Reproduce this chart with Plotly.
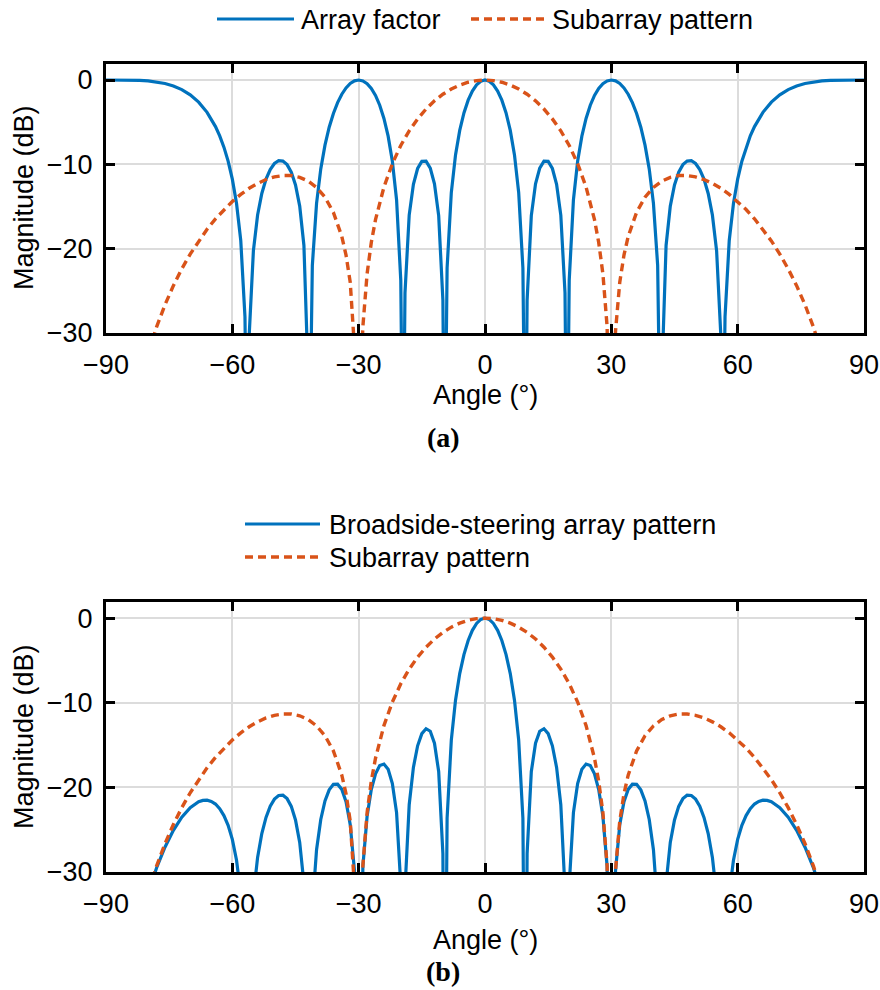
import plotly.graph_objects as go

# ---------------- data ----------------
af_angle = [-90, -88, -86, -84, -82, -80, -78, -76, -74, -72, -70, -68, -66, -65, -64, -63, -62, -61, -60, -59, -58, -57,
            -56.44, -56, -55, -54, -53, -52, -51, -50, -49, -48, -47, -46, -45, -44, -43, -42, -41.81, -41, -40, -39, -38,
            -37, -36, -35, -34, -33, -32, -31, -30, -29, -28, -27, -26, -25, -24, -23, -22, -21, -20, -19.47, -19, -18,
            -17, -16, -15, -14, -13, -12, -11, -10, -9.59, -9, -8, -7, -6, -5, -4, -3, -2, -1,
            0, 1, 2, 3, 4, 5, 6, 7, 8, 9, 9.59, 10, 11, 12, 13, 14, 15, 16, 17, 18, 19, 19.47, 20, 21, 22, 23, 24, 25, 26,
            27, 28, 29, 30, 31, 32, 33, 34, 35, 36, 37, 38, 39, 40, 41, 41.81, 42, 43, 44, 45, 46, 47, 48, 49, 50, 51, 52,
            53, 54, 55, 56, 56.44, 57, 58, 59, 60, 61, 62, 63, 64, 65, 66, 68, 70, 72, 74, 76, 78, 80, 82, 84, 86, 88, 90]
af_db = [0, 0, 0, -0.01, -0.04, -0.11, -0.22, -0.41, -0.70, -1.13, -1.75, -2.62, -3.83, -4.60, -5.52, -6.62, -7.96, -9.62,
         -11.76, -14.65, -19.03, -28.09, -50, -30.28, -20.26, -16.01, -13.45, -11.75, -10.61, -9.90, -9.57, -9.61, -10.03,
         -10.92, -12.44, -14.95, -19.62, -35.05, -50, -21.97, -14.63, -10.54, -7.72, -5.60, -3.96, -2.68, -1.68, -0.94,
         -0.41, -0.10, 0, -0.11, -0.43, -1.00, -1.83, -2.99, -4.55, -6.66, -9.63, -14.20, -23.76, -50, -25.25, -16.01,
         -12.36, -10.49, -9.65, -9.63, -10.44, -12.31, -16.07, -26.10, -50, -22.29, -13.34, -8.88, -5.97, -3.90, -2.39,
         -1.30, -0.57, -0.14,
         0, -0.14, -0.57, -1.30, -2.39, -3.90, -5.97, -8.88, -13.34, -22.29, -50, -26.10, -16.07, -12.31, -10.44, -9.63,
         -9.65, -10.49, -12.36, -16.01, -25.25, -50, -23.76, -14.20, -9.63, -6.66, -4.55, -2.99, -1.83, -1.00, -0.43,
         -0.11, 0, -0.10, -0.41, -0.94, -1.68, -2.68, -3.96, -5.60, -7.72, -10.54, -14.63, -21.97, -50, -35.05, -19.62,
         -14.95, -12.44, -10.92, -10.03, -9.61, -9.57, -9.90, -10.61, -11.75, -13.45, -16.01, -20.26, -30.28, -50, -28.09,
         -19.03, -14.65, -11.76, -9.62, -7.96, -6.62, -5.52, -4.60, -3.83, -2.62, -1.75, -1.13, -0.70, -0.41, -0.22,
         -0.11, -0.04, -0.01, 0, 0, 0]

sub_angle = [-84, -80, -78, -76, -74, -72, -70, -68, -66, -64, -62, -60, -58, -56, -54, -52, -50, -48, -46, -44, -42, -40,
             -38, -36, -34, -33, -32, -31, -30.5, -30, -29.5, -29, -28, -27, -26, -24, -22, -20, -18, -16, -14, -12, -10,
             -8, -6, -4, -2,
             0, 2, 4, 6, 8, 10, 12, 14, 16, 18, 20, 22, 24, 26, 27, 28, 29, 29.5, 30, 30.5, 31, 32, 33, 34, 36, 38, 40,
             42, 44, 46, 48, 50, 52, 54, 56, 58, 60, 62, 64, 66, 68, 70, 72, 74, 76, 78, 80, 84]
sub_db = [-41.3, -32.46, -29.31, -26.66, -24.39, -22.40, -20.64, -19.08, -17.69, -16.46, -15.36, -14.40, -13.56, -12.84,
          -12.26, -11.80, -11.49, -11.33, -11.33, -11.54, -11.98, -12.74, -13.90, -15.69, -18.56, -20.76, -23.99, -29.74,
          -35.6, -60, -35.4, -29.24, -22.99, -19.26, -16.56, -12.70, -9.92, -7.76, -6.03, -4.61, -3.44, -2.47, -1.69,
          -1.07, -0.60, -0.26, -0.07,
          0, -0.07, -0.26, -0.60, -1.07, -1.69, -2.47, -3.44, -4.61, -6.03, -7.76, -9.92, -12.70, -16.56, -19.26, -22.99,
          -29.24, -35.4, -60, -35.6, -29.74, -23.99, -20.76, -18.56, -15.69, -13.90, -12.74, -11.98, -11.54, -11.33,
          -11.33, -11.49, -11.80, -12.26, -12.84, -13.56, -14.40, -15.36, -16.46, -17.69, -19.08, -20.64, -22.40, -24.39,
          -26.66, -29.31, -32.46, -41.3]

tot_angle = [-80, -79, -78, -76, -74, -72, -70, -68, -67, -66, -65, -64, -63, -62, -61, -60, -59, -58, -57, -56.44, -56,
             -55, -54, -53, -52, -51, -50, -49, -48, -47, -46, -45, -44, -43, -42, -41.81, -41, -40, -39, -38, -37, -36,
             -35, -34, -33, -32, -31, -30, -29, -28, -27, -26, -25, -24, -23, -22, -21, -20, -19.47, -19, -18, -17, -16,
             -15, -14, -13, -12, -11, -10, -9.59, -9, -8, -7, -6, -5, -4, -3, -2, -1,
             0, 1, 2, 3, 4, 5, 6, 7, 8, 9, 9.59, 10, 11, 12, 13, 14, 15, 16, 17, 18, 19, 19.47, 20, 21, 22, 23, 24, 25,
             26, 27, 28, 29, 30, 31, 32, 33, 34, 35, 36, 37, 38, 39, 40, 41, 41.81, 42, 43, 44, 45, 46, 47, 48, 49, 50,
             51, 52, 53, 54, 55, 56, 56.44, 57, 58, 59, 60, 61, 62, 63, 64, 65, 66, 67, 68, 70, 72, 74, 76, 78, 79, 80]
tot_db = [-32.56, -30.97, -29.53, -27.07, -25.08, -23.53, -22.39, -21.70, -21.54, -21.52, -21.66, -21.97, -22.51, -23.33,
          -24.48, -26.15, -28.61, -32.59, -41.3, -60, -43.1, -32.79, -28.27, -25.46, -23.55, -22.23, -21.39, -20.96,
          -20.93, -21.33, -22.25, -23.85, -26.50, -31.35, -47.0, -60, -34.29, -27.36, -23.80, -21.61, -20.30, -19.65,
          -19.62, -20.24, -21.69, -24.41, -29.84, -60, -29.34, -23.42, -20.25, -18.39, -17.43, -17.25, -17.87, -19.55,
          -22.98, -31.52, -60, -32.09, -22.05, -17.64, -15.09, -13.65, -13.07, -13.37, -14.79, -18.13, -27.83, -60,
          -23.65, -14.41, -9.70, -6.56, -4.31, -2.65, -1.45, -0.63, -0.16,
          0, -0.16, -0.63, -1.45, -2.65, -4.31, -6.56, -9.70, -14.41, -23.65, -60, -27.83, -18.13, -14.79, -13.37,
          -13.07, -13.65, -15.09, -17.64, -22.05, -32.09, -60, -31.52, -22.98, -19.55, -17.87, -17.25, -17.43, -18.39,
          -20.25, -23.42, -29.34, -60, -29.84, -24.41, -21.69, -20.24, -19.62, -19.65, -20.30, -21.61, -23.80, -27.36,
          -34.29, -60, -47.0, -31.35, -26.50, -23.85, -22.25, -21.33, -20.93, -20.96, -21.39, -22.23, -23.55, -25.46,
          -28.27, -32.79, -43.1, -60, -41.3, -32.59, -28.61, -26.15, -24.48, -23.33, -22.51, -21.97, -21.66, -21.52,
          -21.54, -21.70, -22.39, -23.53, -25.08, -27.07, -29.53, -30.97, -32.56]

x_ticks = [-90, -60, -30, 0, 30, 60, 90]
y_ticks = [-30, -20, -10, 0]
name_af = "Array factor"
name_sub = "Subarray pattern"
name_tot = "Broadside-steering array pattern"
label_a = "(a)"
label_b = "(b)"
x_title = "Angle (°)"
y_title = "Magnitude (dB)"

# ---------------- styling ----------------
W, H = 880, 990
BLUE = "#0072BD"
ORANGE = "#D95319"
SANS = "Liberation Sans, Arial, sans-serif"
SERIF = "Liberation Serif, Times New Roman, serif"
FS = 27
LW_B = 3.2
LW_O = 3.4
DASH = "8px,5px"


def px(x):
    return x / W


def py(y):
    return 1 - y / H


fig = go.Figure()
fig.add_trace(go.Scatter(x=af_angle, y=af_db, mode="lines", name=name_af,
                         line=dict(color=BLUE, width=LW_B), xaxis="x", yaxis="y", showlegend=False))
fig.add_trace(go.Scatter(x=sub_angle, y=sub_db, mode="lines", name=name_sub,
                         line=dict(color=ORANGE, width=LW_O, dash=DASH), xaxis="x", yaxis="y", showlegend=False))
fig.add_trace(go.Scatter(x=tot_angle, y=tot_db, mode="lines", name=name_tot,
                         line=dict(color=BLUE, width=LW_B), xaxis="x2", yaxis="y2", showlegend=False))
fig.add_trace(go.Scatter(x=sub_angle, y=sub_db, mode="lines", name=name_sub,
                         line=dict(color=ORANGE, width=LW_O, dash=DASH), xaxis="x2", yaxis="y2", showlegend=False))

axis_common = dict(showline=True, linewidth=3, linecolor="black", mirror="ticks",
                   ticks="inside", ticklen=9, tickwidth=2.5, tickcolor="black",
                   showgrid=True, gridcolor="#dcdcdc", gridwidth=2, zeroline=False, automargin=False,
                   tickfont=dict(family=SANS, size=FS, color="black"), fixedrange=True)

xdom = [px(106), px(864)]
ydom_a = [py(333), py(64)]
ydom_b = [py(872), py(602)]

fig.update_layout(
    width=W, height=H,
    margin=dict(l=0, r=0, t=0, b=0, pad=0),
    paper_bgcolor="white", plot_bgcolor="white",
    xaxis=dict(domain=xdom, range=[-90, 90], tickvals=x_ticks, anchor="y", ticklabelstandoff=6, **axis_common),
    yaxis=dict(domain=ydom_a, range=[-30, 1.9], tickvals=y_ticks, anchor="x", ticklabelstandoff=5, **axis_common),
    xaxis2=dict(domain=xdom, range=[-90, 90], tickvals=x_ticks, anchor="y2", ticklabelstandoff=6, **axis_common),
    yaxis2=dict(domain=ydom_b, range=[-30, 1.9], tickvals=y_ticks, anchor="x2", ticklabelstandoff=5, **axis_common),
)

annotations = []
shapes = []


def text(t, x, y, size=FS, family=SANS, xanchor="center", angle=0, bold=False):
    annotations.append(dict(text=(f"<b>{t}</b>" if bold else t), x=px(x), y=py(y), xref="paper", yref="paper",
                            showarrow=False, xanchor=xanchor, yanchor="middle", textangle=angle,
                            font=dict(family=family, size=size, color="black")))


def legline(x0, x1, y, color, width, dash=None):
    line = dict(color=color, width=width)
    if dash:
        line["dash"] = dash
    shapes.append(dict(type="line", xref="paper", yref="paper", x0=px(x0), x1=px(x1), y0=py(y), y1=py(y), line=line))


# axis titles
text(x_title, 485, 395)
text(y_title, 24, 198, angle=-90)
text(x_title, 485, 940)
text(y_title, 24, 737, angle=-90)
# panel labels
text(label_a, 443, 438, size=28, family=SERIF, bold=True)
text(label_b, 443, 971, size=28, family=SERIF, bold=True)

# legend (a)
legline(217, 294, 19, BLUE, LW_B)
text(name_af, 299, 20, xanchor="left")
legline(471, 545, 19, ORANGE, LW_O, DASH)
text(name_sub, 550, 20, xanchor="left")
# legend (b)
legline(245, 320, 524, BLUE, LW_B)
text(name_tot, 327, 525, xanchor="left")
legline(245, 320, 557, ORANGE, LW_O, DASH)
text(name_sub, 327, 558, xanchor="left")

fig.update_layout(annotations=annotations, shapes=shapes)
fig.write_html("out.html", config={"displayModeBar": False},
               post_script="document.body.style.margin='0';document.body.style.overflow='hidden';")
